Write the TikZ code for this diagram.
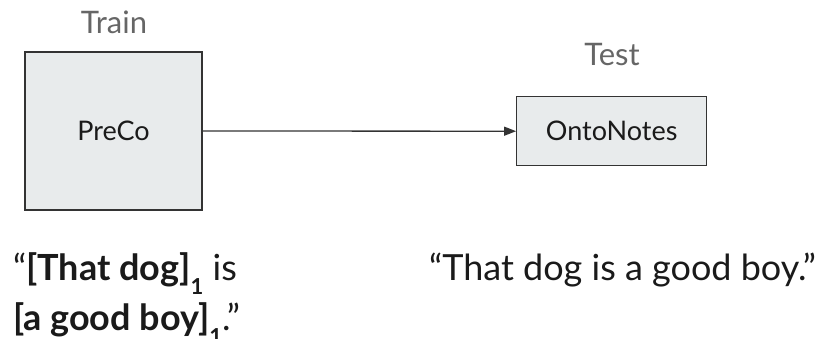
\documentclass[tikz,border=0pt]{standalone}
\usepackage{fontspec}
\setmainfont{Lato}
\usetikzlibrary{arrows.meta}
\definecolor{boxfill}{HTML}{E8EBEC}
\definecolor{boxline}{HTML}{333333}
\definecolor{labelgray}{HTML}{666666}
\definecolor{ink}{HTML}{1A1A1A}
\newcommand{\corefsub}{\raisebox{-14pt}{\fontsize{22}{22}\selectfont\bfseries 1}}
\begin{document}
\begin{tikzpicture}[x=1pt,y=-1pt,
  dataset/.style={draw=boxline, line width=1.2pt, fill=boxfill, inner sep=0pt,
    text=ink, font=\fontsize{27}{27}\selectfont},
  splitlabel/.style={anchor=base, text=labelgray, inner sep=0pt,
    font=\fontsize{31}{31}\selectfont},
  example/.style={anchor=base west, text=ink, inner sep=0pt,
    font=\fontsize{36}{36}\selectfont},
  flow/.style={draw=boxline, line width=1.3pt, -{Triangle[length=12pt,width=9pt]}}]
\useasboundingbox (0,0) rectangle (819,338);

% dataset boxes
\node[dataset, minimum width=177pt, minimum height=158pt] (preco) at (113.5,131) {PreCo};
\node[dataset, minimum width=190pt, minimum height=69pt] (onto) at (611.7,131.2) {OntoNotes};

% split labels
\node[splitlabel] (train) at (114,33.3) {Train};
\node[splitlabel] (test) at (612,65.7) {Test};

% transfer arrow
\draw[flow] (preco.east) -- (onto.west);

% example sentences
\node[example] (annot1) at (13,280) {“\textbf{[That dog]}\corefsub{} is};
\node[example] (annot2) at (13,330) {\textbf{[a good boy]}\corefsub.”};
\node[example] (plain) at (429,280) {“That dog is a good boy.”};
\end{tikzpicture}
\end{document}
